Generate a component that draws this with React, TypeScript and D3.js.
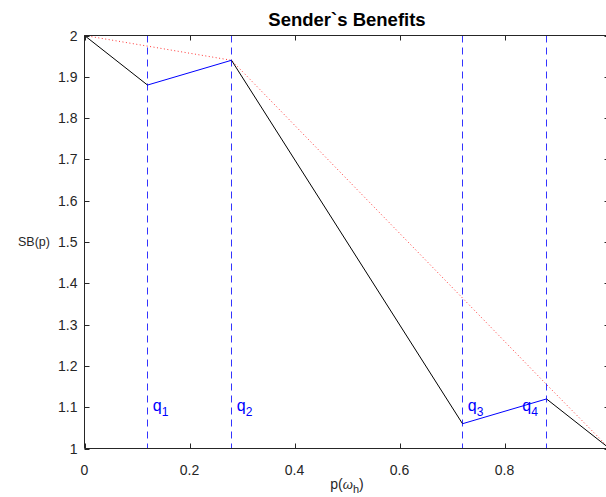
import React from "react";
import * as d3 from "d3";

const W = 606;
const H = 497;

// black piecewise curve (SB)
const blackSegments: [number, number][][] = [
  [[0, 2], [0.12, 1.88]],
  [[0.28, 1.94], [0.72, 1.06]],
  [[0.88, 1.12], [1, 1]],
];
// blue connecting segments
const blueSegments: [number, number][][] = [
  [[0.12, 1.88], [0.28, 1.94]],
  [[0.72, 1.06], [0.88, 1.12]],
];
// red dotted concave envelope
const redPoints: [number, number][] = [
  [0, 2],
  [0.28, 1.94],
  [0.88, 1.155],
  [1, 1],
];
// vertical dashed markers
const qValues = [0.12, 0.28, 0.72, 0.88];
const qLabels = ["1", "2", "3", "4"];
const qLabelX = [0.13, 0.29, 0.73, 0.834];
const qLabelY = 1.1;

const xTicks = [0, 0.2, 0.4, 0.6, 0.8, 1];
const xTickLabels = ["0", "0.2", "0.4", "0.6", "0.8", ""];
const yTicks = [1, 1.1, 1.2, 1.3, 1.4, 1.5, 1.6, 1.7, 1.8, 1.9, 2];
const yTickLabels = ["1", "1.1", "1.2", "1.3", "1.4", "1.5", "1.6", "1.7", "1.8", "1.9", "2"];

const FONT = "'Liberation Sans', Arial, Helvetica, sans-serif";

export default function App() {
  const left = 84.5;
  const right = 609.5;
  const top = 35.5;
  const bottom = 448.5;
  const x = d3.scaleLinear().domain([0, 1]).range([left, right]);
  const y = d3.scaleLinear().domain([1, 2]).range([bottom, top]);
  const line = d3
    .line<[number, number]>()
    .x((d) => x(d[0]))
    .y((d) => y(d[1]));
  const axisColor = "#262626";
  const tickLen = 5;

  return (
    <svg
      width={W}
      height={H}
      style={{ position: "absolute", left: 0, top: 0, background: "#fff" }}
      fontFamily={FONT}
    >
      <rect x={0} y={0} width={W} height={H} fill="#fff" />
      {qValues.map((q, i) => (
        <line
          key={"q" + i}
          x1={x(q)}
          x2={x(q)}
          y1={top}
          y2={bottom}
          stroke="#3333ff"
          strokeWidth={1}
          strokeDasharray="7,5"
        />
      ))}
      <path d={line(redPoints) || ""} fill="none" stroke="#ff0000" strokeWidth={0.8} strokeDasharray="1,2.5" />
      {blackSegments.map((s, i) => (
        <path key={"b" + i} d={line(s) || ""} fill="none" stroke="#000" strokeWidth={1} />
      ))}
      {blueSegments.map((s, i) => (
        <path key={"u" + i} d={line(s) || ""} fill="none" stroke="#0000ff" strokeWidth={1} />
      ))}
      {qLabels.map((l, i) => (
        <text key={"ql" + i} x={x(qLabelX[i])} y={y(qLabelY) + 4} fill="#0000ff" fontSize={16}>
          q
          <tspan fontSize={12} dy={5}>
            {l}
          </tspan>
        </text>
      ))}
      <line x1={left} x2={right} y1={bottom} y2={bottom} stroke={axisColor} />
      <line x1={left} x2={right} y1={top} y2={top} stroke={axisColor} />
      <line x1={left} x2={left} y1={top} y2={bottom} stroke={axisColor} />
      <line x1={right} x2={right} y1={top} y2={bottom} stroke={axisColor} />
      {xTicks.map((t, i) => (
        <g key={"xt" + i}>
          <line x1={Math.round(x(t)) + 0.5} x2={Math.round(x(t)) + 0.5} y1={bottom} y2={bottom - tickLen} stroke={axisColor} />
          <line x1={Math.round(x(t)) + 0.5} x2={Math.round(x(t)) + 0.5} y1={top} y2={top + tickLen} stroke={axisColor} />
          <text x={x(t)} y={bottom + 26} textAnchor="middle" fontSize={14} fill={axisColor}>
            {xTickLabels[i]}
          </text>
        </g>
      ))}
      {yTicks.map((t, i) => (
        <g key={"yt" + i}>
          <line x1={left} x2={left + tickLen} y1={Math.round(y(t)) + 0.5} y2={Math.round(y(t)) + 0.5} stroke={axisColor} />
          <line x1={right} x2={right - tickLen} y1={Math.round(y(t)) + 0.5} y2={Math.round(y(t)) + 0.5} stroke={axisColor} />
          <text x={left - 7} y={y(t) + 5} textAnchor="end" fontSize={14} fill={axisColor}>
            {yTickLabels[i]}
          </text>
        </g>
      ))}
      <text x={(left + right) / 2} y={26} textAnchor="middle" fontSize={18.5} fontWeight="bold" fill="#000">
        Sender`s Benefits
      </text>
      <text x={34} y={y(1.5) + 4} textAnchor="middle" fontSize={12.5} fill={axisColor}>
        SB(p)
      </text>
      <text x={(left + right) / 2} y={489} textAnchor="middle" fontSize={14} fill={axisColor}>
        p(
        <tspan fontStyle="italic" fontSize={13}>ω</tspan>
        <tspan fontSize={11} dy={4}>h</tspan>
        <tspan dy={-4}>)</tspan>
      </text>
    </svg>
  );
}
